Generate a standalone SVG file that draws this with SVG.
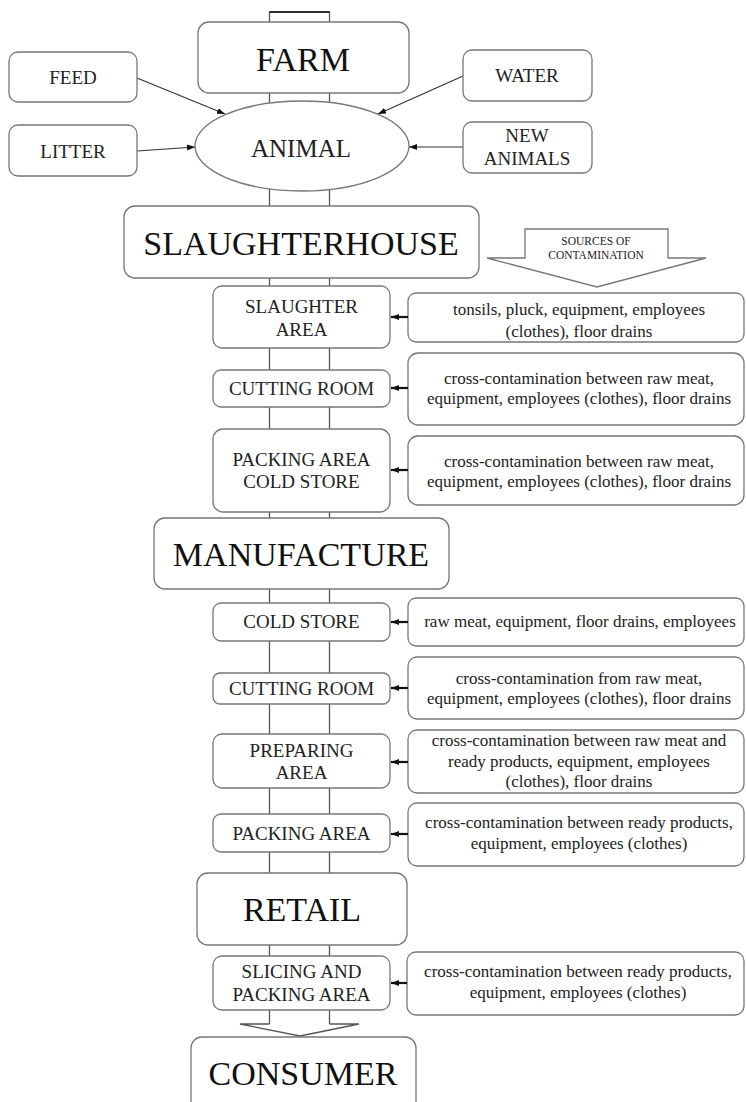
<svg xmlns="http://www.w3.org/2000/svg" width="746" height="1102" viewBox="0 0 746 1102">
<defs>
<marker id="ah" viewBox="0 0 8 6" refX="8" refY="3" markerWidth="8" markerHeight="6" markerUnits="userSpaceOnUse" orient="auto">
<path d="M0,0 L8,3 L0,6 z" fill="#111"/>
</marker>
<style>
.box{fill:#fff;stroke:#777;stroke-width:1.3}
.pipe{fill:none;stroke:#555;stroke-width:1.3}
.arr{stroke:#333;stroke-width:1.2;fill:none}
.arr2{stroke:#111;stroke-width:2.2;fill:none}
text{font-family:"Liberation Serif","Times New Roman",serif;text-anchor:middle;fill:#222}
.big{font-size:34px;fill:#111}
.mid{font-size:19px}
.src{font-size:17px}
.tiny{font-size:11.5px}
</style>
</defs>
<rect width="746" height="1102" fill="#fff"/>
<g id="connectors">
<path class="pipe" d="M269.5,1024 V12 H329.5 V1024"/>
<path class="pipe" d="M269.5,12 H329.5" style="stroke:#111"/>
<path class="pipe" d="M269.5,1024 H240 L300,1036 L359,1024 H329.5"/>
<line class="arr" x1="137" y1="78" x2="225" y2="114" marker-end="url(#ah)"/>
<line class="arr" x1="137" y1="151" x2="195" y2="147" marker-end="url(#ah)"/>
<line class="arr" x1="463" y1="76" x2="378" y2="114" marker-end="url(#ah)"/>
<line class="arr" x1="463" y1="147" x2="409" y2="147" marker-end="url(#ah)"/>
</g>
<g id="farm"><rect class="box" x="198" y="22" width="211" height="71" rx="11"/><text class="big" x="303" y="71">FARM</text></g>
<g id="feed"><rect class="box" x="9" y="52" width="128" height="50" rx="9"/><text class="mid" x="73" y="84">FEED</text></g>
<g id="litter"><rect class="box" x="9" y="125" width="128" height="51" rx="9"/><text class="mid" x="73" y="158">LITTER</text></g>
<g id="water"><rect class="box" x="463" y="50" width="129" height="51" rx="9"/><text class="mid" x="527" y="82">WATER</text></g>
<g id="new-animals"><rect class="box" x="463" y="122" width="129" height="51" rx="9"/><text class="mid" x="527" y="142">NEW</text><text class="mid" x="527" y="165">ANIMALS</text></g>
<g id="animal"><ellipse class="box" cx="302" cy="146" rx="107" ry="45"/><text x="301" y="157" style="font-size:25px">ANIMAL</text></g>
<g id="slaughterhouse"><rect class="box" x="124" y="206" width="355" height="72" rx="11"/><text class="big" x="301" y="255">SLAUGHTERHOUSE</text></g>
<g id="sources"><polygon class="box" points="525,229 668,229 668,258 706,258 597,287 487,258 525,258"/><text class="tiny" x="596" y="245">SOURCES OF</text><text class="tiny" x="596" y="259">CONTAMINATION</text></g>
<g id="slaughter-area"><rect class="box" x="213" y="286" width="177" height="62" rx="9"/><text class="mid" x="301.5" y="313">SLAUGHTER</text><text class="mid" x="301.5" y="336">AREA</text></g>
<g id="cutting-room-1"><rect class="box" x="213" y="370" width="177" height="37" rx="8"/><text class="mid" x="301.5" y="395">CUTTING ROOM</text></g>
<g id="packing-cold"><rect class="box" x="213" y="429" width="177" height="83" rx="10"/><text class="mid" x="301.5" y="466">PACKING AREA</text><text class="mid" x="301.5" y="488">COLD STORE</text></g>
<g id="manufacture"><rect class="box" x="154" y="518" width="295" height="71" rx="11"/><text class="big" x="301" y="566">MANUFACTURE</text></g>
<g id="cold-store"><rect class="box" x="213" y="603" width="177" height="38" rx="8"/><text class="mid" x="301.5" y="628">COLD STORE</text></g>
<g id="cutting-room-2"><rect class="box" x="213" y="673" width="177" height="31" rx="7"/><text class="mid" x="301.5" y="695">CUTTING ROOM</text></g>
<g id="preparing-area"><rect class="box" x="213" y="734" width="177" height="54" rx="9"/><text class="mid" x="301.5" y="757">PREPARING</text><text class="mid" x="301.5" y="779">AREA</text></g>
<g id="packing-area"><rect class="box" x="213" y="814" width="177" height="38" rx="8"/><text class="mid" x="301.5" y="840">PACKING AREA</text></g>
<g id="retail"><rect class="box" x="197" y="873" width="210" height="72" rx="11"/><text class="big" x="302" y="921">RETAIL</text></g>
<g id="slicing"><rect class="box" x="213" y="956" width="177" height="54" rx="9"/><text class="mid" x="301.5" y="978">SLICING AND</text><text class="mid" x="301.5" y="1001">PACKING AREA</text></g>
<g id="consumer"><rect class="box" x="191" y="1037" width="225" height="80" rx="11"/><text class="big" x="303" y="1085">CONSUMER</text></g>
<g id="src-1"><rect class="box" x="408" y="293" width="336" height="49" rx="8"/><text class="src" x="579" y="315">tonsils, pluck, equipment, employees</text><text class="src" x="579" y="337">(clothes), floor drains</text></g>
<g id="src-2"><rect class="box" x="408" y="353" width="336" height="72" rx="10"/><text class="src" x="579" y="384">cross-contamination between raw meat,</text><text class="src" x="579" y="404">equipment, employees (clothes), floor drains</text></g>
<g id="src-3"><rect class="box" x="408" y="436" width="336" height="69" rx="10"/><text class="src" x="579" y="467">cross-contamination between raw meat,</text><text class="src" x="579" y="487">equipment, employees (clothes), floor drains</text></g>
<g id="src-4"><rect class="box" x="408" y="598" width="336" height="48" rx="8"/><text class="src" x="580" y="627">raw meat, equipment, floor drains, employees</text></g>
<g id="src-5"><rect class="box" x="408" y="657" width="336" height="62" rx="9"/><text class="src" x="579" y="684">cross-contamination from raw meat,</text><text class="src" x="579" y="704">equipment, employees (clothes), floor drains</text></g>
<g id="src-6"><rect class="box" x="408" y="730" width="336" height="63" rx="9"/><text class="src" x="579" y="746">cross-contamination between raw meat and</text><text class="src" x="579" y="767">ready products, equipment, employees</text><text class="src" x="579" y="787">(clothes), floor drains</text></g>
<g id="src-7"><rect class="box" x="408" y="803" width="336" height="63" rx="9"/><text class="src" x="579" y="828">cross-contamination between ready products,</text><text class="src" x="579" y="849">equipment, employees (clothes)</text></g>
<g id="src-8"><rect class="box" x="407" y="952" width="337" height="63" rx="9"/><text class="src" x="578" y="977">cross-contamination between ready products,</text><text class="src" x="578" y="998">equipment, employees (clothes)</text></g>
<g id="side-arrows">
<line class="arr2" x1="408" y1="317" x2="391" y2="317" marker-end="url(#ah)"/>
<line class="arr2" x1="408" y1="388" x2="391" y2="388" marker-end="url(#ah)"/>
<line class="arr2" x1="408" y1="470" x2="391" y2="470" marker-end="url(#ah)"/>
<line class="arr2" x1="408" y1="622" x2="391" y2="622" marker-end="url(#ah)"/>
<line class="arr2" x1="408" y1="688" x2="391" y2="688" marker-end="url(#ah)"/>
<line class="arr2" x1="408" y1="762" x2="391" y2="762" marker-end="url(#ah)"/>
<line class="arr2" x1="408" y1="834" x2="391" y2="834" marker-end="url(#ah)"/>
<line class="arr2" x1="407" y1="983" x2="391" y2="983" marker-end="url(#ah)"/>
</g>
</svg>
